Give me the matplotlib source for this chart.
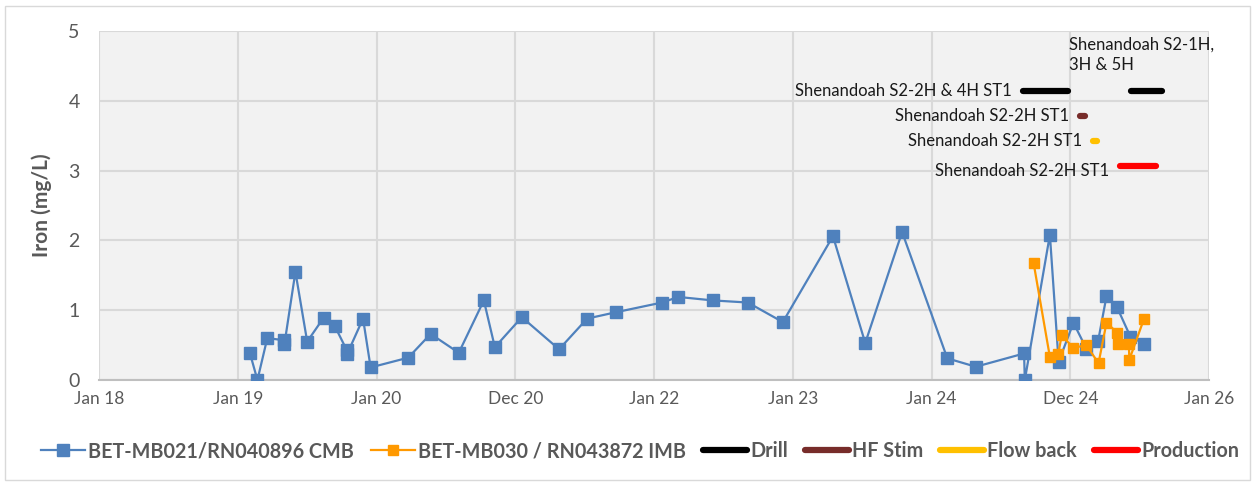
import numpy as np
import matplotlib
matplotlib.use("Agg")
import matplotlib.pyplot as plt
import matplotlib.dates as mdates
from matplotlib.lines import Line2D
from matplotlib.patches import Rectangle

plt.rcParams["font.family"] = ["Lato", "DejaVu Sans"]

# --- data ---
cmb_dates = ["2019-02-02", "2019-02-22", "2019-03-20", "2019-05-03", "2019-05-04",
             "2019-06-02", "2019-07-03", "2019-08-15", "2019-09-13", "2019-10-15",
             "2019-10-16", "2019-11-27", "2019-12-17", "2020-03-25", "2020-05-23",
             "2020-08-05", "2020-10-10", "2020-11-08", "2021-01-18", "2021-04-26",
             "2021-07-09", "2021-09-22", "2022-01-22", "2022-03-06", "2022-06-05",
             "2022-09-05", "2022-12-06", "2023-04-17", "2023-07-11", "2023-10-16",
             "2024-02-12", "2024-04-27", "2024-09-01", "2024-09-03", "2024-11-08",
             "2024-12-01", "2025-01-09", "2025-02-12", "2025-03-15", "2025-04-06",
             "2025-05-04", "2025-06-08", "2025-07-14"]
cmb_iron = [0.39, 0.00, 0.60, 0.57, 0.51, 1.55, 0.55, 0.89, 0.78, 0.43,
            0.37, 0.88, 0.18, 0.32, 0.66, 0.39, 1.14, 0.47, 0.90, 0.44,
            0.88, 0.97, 1.11, 1.19, 1.14, 1.11, 0.83, 2.06, 0.53, 2.12,
            0.31, 0.19, 0.38, 0.00, 2.08, 0.26, 0.82, 0.45, 0.56, 1.20,
            1.04, 0.62, 0.52]

imb_dates = ["2024-09-26", "2024-11-08", "2024-11-30", "2024-12-09", "2025-01-09",
             "2025-02-12", "2025-03-16", "2025-04-06", "2025-05-04", "2025-05-05",
             "2025-06-04", "2025-06-05", "2025-07-14"]
imb_iron = [1.68, 0.33, 0.37, 0.64, 0.46, 0.50, 0.24, 0.82, 0.68, 0.51,
            0.52, 0.29, 0.88]

# activity periods: (name, start, end, level, label)
activities = [
    ("Drill", "2024-08-29", "2024-12-25", 4.14, "Shenandoah S2-2H & 4H ST1"),
    ("Drill", "2025-06-10", "2025-08-31", 4.14, "Shenandoah S2-1H,\n3H & 5H"),
    ("HF Stim", "2025-01-26", "2025-02-09", 3.78, "Shenandoah S2-2H ST1"),
    ("Flow back", "2025-03-01", "2025-03-12", 3.42, "Shenandoah S2-2H ST1"),
    ("Production", "2025-05-12", "2025-08-14", 3.07, "Shenandoah S2-2H ST1"),
]
activity_colors = {"Drill": "#000000", "HF Stim": "#772C2A",
                   "Flow back": "#FFC000", "Production": "#FF0000"}

tick_labels = ["Jan 18", "Jan 19", "Jan 20", "Dec 20", "Jan 22",
               "Jan 23", "Jan 24", "Dec 24", "Jan 26"]

# --- plot ---
grey = "#595959"
fig = plt.figure(figsize=(12.58, 4.86), dpi=100)
ax = fig.add_axes([0.0787, 0.2181, 0.8824, 0.7181])
ax.set_facecolor("#F2F2F2")

x0 = mdates.date2num(np.datetime64("2018-01-01"))
ticks = [x0 + k * 365.25 for k in range(len(tick_labels))]

d_cmb = mdates.date2num(np.array(cmb_dates, dtype="datetime64[D]"))
d_imb = mdates.date2num(np.array(imb_dates, dtype="datetime64[D]"))

ax.plot(d_cmb, cmb_iron, color="#4F81BD", lw=1.6, marker="s", ms=8.5,
        mec="#4F81BD", zorder=3)
ax.plot(d_imb, imb_iron, color="#FF9900", lw=1.6, marker="s", ms=7,
        mec="#FF9900", zorder=4)

for name, start, end, level, label in activities:
    xs = mdates.date2num(np.array([start, end], dtype="datetime64[D]"))
    ax.plot(xs, [level, level], color=activity_colors[name], lw=4.5,
            solid_capstyle="round", zorder=5)
    if "," in label:
        ax.annotate(label, (xs[0], level), xytext=(-45, 13), textcoords="offset points",
                    ha="left", va="bottom", fontsize=12, color="#1a1a1a",
                    linespacing=1.3)
    elif name == "Production":
        ax.annotate(label, (xs[0], level), xytext=(-8, -4), textcoords="offset points",
                    ha="right", va="center", fontsize=12, color="#1a1a1a")
    else:
        ax.annotate(label, (xs[0], level), xytext=(-8, 0), textcoords="offset points",
                    ha="right", va="center", fontsize=12, color="#1a1a1a")

ax.set_xlim(ticks[0], ticks[-1])
ax.set_ylim(0, 5)
ax.set_xticks(ticks)
ax.set_xticklabels(tick_labels)
ax.set_yticks(range(6))
ax.tick_params(length=0, labelsize=12.5, colors=grey, pad=8)
ax.tick_params(axis="y", labelsize=14, pad=14)
ax.grid(True, color="#D9D9D9", lw=1.5)
ax.set_axisbelow(True)
for side in ["top", "right", "left"]:
    ax.spines[side].set_visible(False)
ax.spines["bottom"].set_color("#BFBFBF")
ax.spines["bottom"].set_linewidth(1.5)
ax.set_ylabel("Iron (mg/L)", fontsize=15, fontweight="bold", color=grey, labelpad=12)

handles = [
    Line2D([], [], color="#4F81BD", lw=1.6, marker="s", ms=8.5),
    Line2D([], [], color="#FF9900", lw=1.6, marker="s", ms=7),
]
for name in ["Drill", "HF Stim", "Flow back", "Production"]:
    handles.append(Line2D([], [], color=activity_colors[name], lw=4.5,
                          solid_capstyle="round"))
labels = ["BET-MB021/RN040896 CMB", "BET-MB030 / RN043872 IMB",
          "Drill", "HF Stim", "Flow back", "Production"]
leg = fig.legend(handles, labels, loc="center", bbox_to_anchor=(0.5087, 0.072), ncol=6,
                 frameon=False, fontsize=14.2, handlelength=2.25, handletextpad=0.15,
                 columnspacing=0.85)
for t in leg.get_texts():
    t.set_color(grey)
    t.set_fontweight("bold")

fig.patches.append(Rectangle((5 / 1258, 6 / 486), 1245 / 1258, 474 / 486,
                             transform=fig.transFigure, fill=False,
                             edgecolor="#D9D9D9", lw=1))

fig.savefig("out.png", dpi=100)
